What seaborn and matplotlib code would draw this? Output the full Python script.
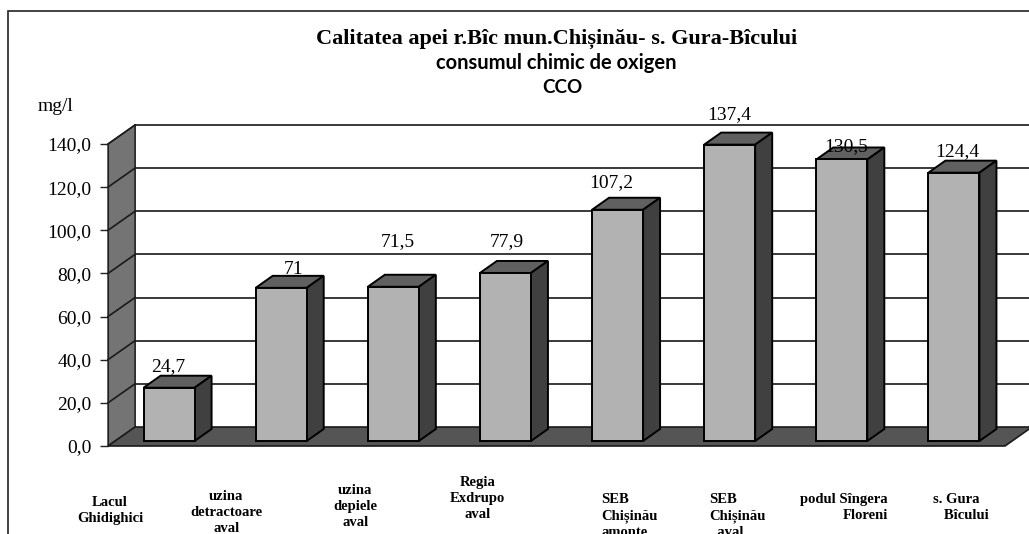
import pandas as pd
import seaborn as sns
import matplotlib.pyplot as plt
from matplotlib import transforms
from matplotlib.patches import Polygon, Rectangle

# --- data ---
categories = ["Lacul\nGhidighici", "uzina\ndetractoare\naval", "uzina\ndepiele\naval",
              "Regia\nExdrupo\naval", "SEB\nChișinău\namonte", "SEB\nChișinău\n  aval",
              "podul Sîngera\nFloreni", "s. Gura\n   Bîcului"]
values = [24.7, 71.0, 71.5, 77.9, 107.2, 137.4, 130.5, 124.4]
value_labels = ["24,7", "71", "71,5", "77,9", "107,2", "137,4", "130,5", "124,4"]
y_ticks = [0, 20, 40, 60, 80, 100, 120, 140]
y_tick_labels = ["0,0", "20,0", "40,0", "60,0", "80,0", "100,0", "120,0", "140,0"]
title_lines = ["Calitatea apei r.Bîc mun.Chișinău- s. Gura-Bîcului",
               "consumul chimic de oxigen", "CCO"]
unit_label = "mg/l"

# --- style / placement (pixels) ---
W, H = 1029, 534
AX_L, AX_R, AX_B, AX_T = 108, 1005, 446, 144
WALL_DX, WALL_DY = 27, 19      # depth of floor / side wall
BAR_DX, BAR_DY = 17, 12        # depth of each bar
BAR_SHIFT = 5                  # bars sit slightly behind the front plane
label_off = [(-1, 21), (12, 18), (4, 45), (1, 31), (-6, 27), (0, 30), (4, 13), (3, 21)]
cat_pos = [("center", -54, 496), ("center", -50, 490), ("center", -33, 484),
           ("center", -23, 476), ("left", -11, 493), ("left", -15, 493),
           ("right", 51, 493), ("left", -16, 493)]

SERIF = "Liberation Serif"
FRONT, TOP, SIDE = "#b2b2b2", "#606060", "#404040"
LWALL, FLOOR = "#747474", "#555555"

fig = plt.figure(figsize=(W / 100, H / 100), dpi=100)
ax = fig.add_axes([AX_L / W, (H - AX_B) / H, (AX_R - AX_L) / W, (AX_B - AX_T) / H])

n = len(values)
px_x = (AX_R - AX_L) / n
px_y = (AX_B - AX_T) / 140.0
wdx, wdy = WALL_DX / px_x, WALL_DY / px_y
bdx, bdy = BAR_DX / px_x, BAR_DY / px_y
x0, x1 = -0.5, n - 0.5

# back wall + gridlines
ax.add_patch(Polygon([(x0 + wdx, wdy), (x1 + wdx + 1, wdy), (x1 + wdx + 1, 140 + wdy),
                      (x0 + wdx, 140 + wdy)], closed=True, facecolor="white",
                     edgecolor="none", zorder=0, clip_on=False))
for t in y_ticks[1:]:
    ax.plot([x0 + wdx, x1 + wdx + 1], [t + wdy, t + wdy], color="#2a2a2a", lw=1.3,
            zorder=1, clip_on=False)
ax.plot([x0 + wdx, x0 + wdx], [wdy, 140 + wdy], color="#2a2a2a", lw=1.2, zorder=1,
        clip_on=False)

# left wall
ax.add_patch(Polygon([(x0, 0), (x0 + wdx, wdy), (x0 + wdx, 140 + wdy), (x0, 140)],
                     closed=True, facecolor=LWALL, edgecolor="#222222", lw=1,
                     zorder=2, clip_on=False))
for t in y_ticks[1:]:
    ax.plot([x0, x0 + wdx], [t, t + wdy], color="#1a1a1a", lw=1.2, zorder=2,
            clip_on=False)

# floor
ax.add_patch(Polygon([(x0, 0), (x1, 0), (x1 + wdx, wdy), (x0 + wdx, wdy)], closed=True,
                     facecolor=FLOOR, edgecolor="#1a1a1a", lw=1.2, zorder=3,
                     clip_on=False))

# bars
df = pd.DataFrame({"cat": [str(i) for i in range(n)], "val": values})
sns.barplot(data=df, x="cat", y="val", color=FRONT, saturation=1, width=0.455,
            edgecolor="black", linewidth=1.4, ax=ax, zorder=6)

shift = ax.transData + transforms.ScaledTranslation(BAR_SHIFT / 100, BAR_SHIFT / 100,
                                                     fig.dpi_scale_trans)
for p in ax.patches:
    if not isinstance(p, Rectangle):
        continue
    p.set_transform(shift)
    p.set_clip_on(False)
    bx0, bx1, h = p.get_x(), p.get_x() + p.get_width(), p.get_height()
    ax.add_patch(Polygon([(bx0, h), (bx1, h), (bx1 + bdx, h + bdy), (bx0 + bdx, h + bdy)],
                         closed=True, facecolor=TOP, edgecolor="black", lw=1.4,
                         zorder=5, transform=shift, clip_on=False))
    ax.add_patch(Polygon([(bx1, 0), (bx1 + bdx, bdy), (bx1 + bdx, h + bdy), (bx1, h)],
                         closed=True, facecolor=SIDE, edgecolor="black", lw=1.4,
                         zorder=5, transform=shift, clip_on=False))

# value labels
for i, (v, lab) in enumerate(zip(values, value_labels)):
    dx, dy = label_off[i]
    ax.annotate(lab, xy=(i, v), xytext=(dx + BAR_SHIFT, dy + BAR_SHIFT),
                textcoords="offset pixels", ha="center", va="center",
                fontsize=14, family=SERIF, zorder=8, annotation_clip=False)

# category labels
for i, cat in enumerate(categories):
    ha, dx, top = cat_pos[i]
    ax.annotate(cat, xy=(i, 0), xytext=(dx, -(top - AX_B)), textcoords="offset pixels",
                ha=ha, va="top", multialignment=ha, fontsize=10.5, fontweight="bold",
                family=SERIF, linespacing=1.3, annotation_clip=False)

# axes cosmetics
ax.set_xlim(x0, x1)
ax.set_ylim(0, 140)
ax.set_xlabel("")
ax.set_ylabel("")
ax.set_xticks([])
ax.set_yticks(y_ticks)
ax.set_yticklabels(y_tick_labels, family=SERIF, fontsize=14)
ax.tick_params(axis="y", length=6, width=1, pad=6, color="#222222")
for s in ["top", "right", "bottom"]:
    ax.spines[s].set_visible(False)
ax.spines["left"].set_color("#222222")
ax.patch.set_visible(False)

# titles and unit
fig.text(557 / W, 1 - 39 / H, title_lines[0], ha="center", va="center", fontsize=16,
         fontweight="bold", family=SERIF)
fig.text(556 / W, 1 - 63 / H, title_lines[1], ha="center", va="center", fontsize=14.5,
         fontweight="bold", family="Lato")
fig.text(562 / W, 1 - 87 / H, title_lines[2], ha="center", va="center", fontsize=13.5,
         fontweight="bold", family="Lato")
fig.text(38 / W, 1 - 107 / H, unit_label, ha="left", va="center", fontsize=14,
         family=SERIF)

# outer chart frame
fig.patches.append(Rectangle((8 / W, -0.2), 1.2, 1 - 11 / H + 0.2, fill=False,
                             edgecolor="#222222", lw=1.2, transform=fig.transFigure,
                             figure=fig))

fig.savefig("out.png", dpi=100)
